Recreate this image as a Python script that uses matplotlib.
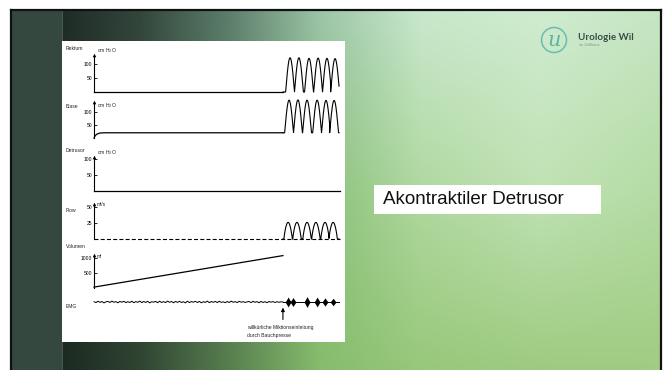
import numpy as np
import matplotlib
matplotlib.use("Agg")
import matplotlib.pyplot as plt
from matplotlib.patches import Rectangle, Circle

plt.rcParams['font.family'] = ['Liberation Sans', 'DejaVu Sans']

W, H = 667, 370

# ---- time base (arbitrary units) -------------------------------------------
t_end = 100.0
void_start = 76.8          # voluntary voiding by abdominal straining

# ---- Rektum (cm H2O) --------------------------------------------------------
rektum_base = 0
rektum_peaks_t = [79.7, 83.3, 87.4, 91.1, 94.7, 98.0]
rektum_peaks_v = [122, 122, 120, 121, 120, 119]

# ---- Blase (cm H2O) ---------------------------------------------------------
blase_knots_t = [0.0, 0.5, 1.2, 2.4, 4.0, 76.8]
blase_knots_v = [0, 9, 15, 19, 20, 20]
blase_peaks_t = [79.3, 82.9, 86.6, 90.7, 94.3, 97.6]
blase_peaks_v = [145, 146, 145, 145, 144, 144]

# ---- Detrusor (cm H2O) ------------------------------------------------------
detrusor_t = [0.0, 100.0]
detrusor_v = [0, 0]

# ---- Flow (ml/s) ------------------------------------------------------------
flow_peaks_t = [78.9, 82.5, 86.6, 90.2, 93.9, 97.2]
flow_peaks_v = [26, 26, 26, 26, 26, 26]

# ---- Volumen (ml) -----------------------------------------------------------
volumen_t = [0.0, 76.8]
volumen_v = [30, 1080]

# ---- EMG (relative amplitude) -----------------------------------------------
emg_rest = [0.3, -0.6, 0.8, -0.4, 0.5, -0.9, 0.2, 0.6, -0.5, 0.9, -0.3, 0.4,
            -0.8, 0.6, -0.2, 0.7, -0.6, 0.3, -0.5, 0.8, -0.7, 0.4, -0.3, 0.9,
            -0.6, 0.5, -0.4, 0.7, -0.9, 0.3, -0.2, 0.6, -0.7, 0.8, -0.5, 0.4,
            -0.6, 0.9, -0.3, 0.5, -0.8, 0.6, -0.4, 0.7, -0.5, 0.3, -0.9, 0.8,
            -0.6, 0.4, -0.2, 0.7, -0.5, 0.6, -0.8, 0.3, -0.4, 0.9, -0.7, 0.5,
            -0.3, 0.6, -0.6, 0.8, -0.4, 0.2, -0.7, 0.5, -0.5, 0.9, -0.3, 0.4,
            -0.6, 0.7, -0.2, 0.3, -0.4, 0.1, 0.5, -0.6, 0.7, -0.3, 0.4, -0.8,
            0.6, -0.5, 0.3, -0.7, 0.5, -0.2, 0.4, -0.5, 0.3, -0.3, 0.2, 0.0]
emg_burst_t = [78.9, 80.9, 86.6, 90.7, 93.9, 97.2]
emg_burst_v = [5.0, 4.5, 5.5, 5.0, 4.2, 3.8]

channel_names = ["Rektum", "Blase", "Detrusor", "Flow", "Volumen", "EMG"]
units = ["cm H$_2$O", "cm H$_2$O", "cm H$_2$O", "ml/s", "ml", ""]
yticks = [[50, 100], [50, 100], [50, 100], [25, 50], [500, 1000], []]


def pulse_train(t, centers, heights, width, base=0.0, power=1.0):
    y = np.full_like(t, base, dtype=float)
    for c, h in zip(centers, heights):
        u = (t - (c - width / 2)) / width
        m = (u >= 0) & (u <= 1)
        y[m] = base + (h - base) * np.sin(np.pi * u[m]) ** power
    return y


fig = plt.figure(figsize=(W / 100, H / 100), dpi=100)
fig.patch.set_facecolor("white")

# ---- slide background ------------------------------------------------------
bg = fig.add_axes([0, 0, 1, 1])
bg.set_xlim(0, W)
bg.set_ylim(H, 0)
bg.axis("off")

xs = [62, 140, 230, 320, 420, 540, 661]
ys = [10, 190, 370]
rows_hex = [
    ["#1f2c26", "#33463c", "#5d7e6c", "#9cc4a8", "#c8e8cc", "#cfecd0", "#c6e6c4"],
    ["#1f2d27", "#33483c", "#5b8262", "#8cc27c", "#b0d8a0", "#c0e2b4", "#b4dca4"],
    ["#1c2921", "#2f4432", "#587f4e", "#86bc6c", "#98c87a", "#9ecb80", "#a0cc82"],
]
cols = np.array([[matplotlib.colors.to_rgb(c) for c in r] for r in rows_hex])
gx = np.arange(62, 661) + 0.5
gy = np.arange(10, 370) + 0.5
rows = np.stack([np.stack([np.interp(gx, xs, cols[r, :, c]) for c in range(3)], -1)
                 for r in range(3)])
fy = np.interp(gy, ys, [0, 1, 2])
i0 = np.clip(np.floor(fy).astype(int), 0, 1)
f = (fy - i0)[:, None, None]
img = rows[i0] * (1 - f) + rows[i0 + 1] * f
bg.imshow(img, extent=(62, 661, 370, 10), origin="upper", aspect="auto",
          interpolation="bilinear", zorder=0)

bg.add_patch(Rectangle((11, 10), 51, 360, fc="#34483f", ec="none", zorder=1))
bg.plot([62, 62], [10, 370], color="#5a6e64", lw=0.5, zorder=2)
bg.plot([11, 11], [10, 370], color="#111111", lw=1.6, zorder=3)
bg.plot([11, 661], [10, 10], color="#111111", lw=1.6, zorder=3)
bg.plot([661, 661], [10, 370], color="#111111", lw=1.6, zorder=3)

# white chart card
bg.add_patch(Rectangle((62, 41), 283, 301, fc="white", ec="none", zorder=2))

# title box
bg.add_patch(Rectangle((374, 185), 227, 29, fc="white", ec="none", zorder=2))
bg.text(383, 200, "Akontraktiler Detrusor", fontsize=13.5, color="#111111",
        va="center", ha="left", zorder=3)

# logo
bg.add_patch(Circle((554, 40), 12.5, fc="none", ec="#6cbcae", lw=1.1, zorder=3))
bg.text(554, 41, "u", fontsize=15, family="DejaVu Serif", style="italic",
        color="#5cb4a4", ha="center", va="center", zorder=3)
bg.text(578, 37, "Urologie Wil", fontsize=7, weight="bold", family="Lato",
        color="#3b4a47", va="center", ha="left", zorder=3)
bg.text(579, 45, "im Zollhaus", fontsize=3, color="#8a9a92",
        va="center", ha="left", zorder=3)

# ---- trace panels ----------------------------------------------------------
X0, X1 = 94, 340
# (top pixel of axis arrow, pixel of zero line, top value)
panels = [(55, 92, 132), (102, 138, 138), (157, 191, 106),
          (204, 239, 54.7), (255, 288, 1100)]
label_y = [49, 107, 150, 211, 247, 306]
unit_y = [51, 106, 153, 204, 256]

axes = []
for (top, zero, vmax), ticks in zip(panels, yticks):
    ax = fig.add_axes([X0 / W, 1 - zero / H, (X1 - X0) / W, (zero - top) / H])
    ax.set_xlim(0, t_end)
    ax.set_ylim(0, vmax)
    ax.patch.set_alpha(0)
    for s in ("top", "right", "bottom"):
        ax.spines[s].set_visible(False)
    ax.spines["left"].set_linewidth(0.8)
    ax.set_xticks([])
    ax.set_yticks(ticks)
    ax.tick_params(axis="y", direction="in", length=2.2, width=0.6,
                   labelsize=3.6, pad=1.5)
    ax.plot([0], [vmax], marker="^", color="k", ms=2.6, clip_on=False,
            markeredgewidth=0)
    axes.append(ax)

tt = np.linspace(void_start, 99.6, 800)

ax = axes[0]
ax.plot([0, void_start], [rektum_base, rektum_base], color="k", lw=0.9,
        clip_on=False)
ax.plot(tt, pulse_train(tt, rektum_peaks_t, rektum_peaks_v, 3.6, rektum_base),
        color="k", lw=0.8, clip_on=False)

ax = axes[1]
ax.plot(blase_knots_t, blase_knots_v, color="k", lw=0.9, clip_on=False)
ax.plot(tt, pulse_train(tt, blase_peaks_t, blase_peaks_v, 3.6, blase_knots_v[-1]),
        color="k", lw=0.8, clip_on=False)

ax = axes[2]
ax.plot(detrusor_t, detrusor_v, color="k", lw=0.9, clip_on=False)

ax = axes[3]
ax.plot([0, t_end], [0, 0], color="k", lw=0.8, dashes=(3.6, 2.0), clip_on=False)
ax.plot(tt, pulse_train(tt, flow_peaks_t, flow_peaks_v, 3.4, 0.0, 0.8),
        color="k", lw=0.8, clip_on=False)

ax = axes[4]
ax.plot(volumen_t, volumen_v, color="k", lw=0.9, clip_on=False)

# EMG strip
emg = fig.add_axes([X0 / W, 1 - 308 / H, (X1 - X0) / W, 12 / H])
emg.set_xlim(0, t_end)
emg.set_ylim(-6, 6)
emg.axis("off")
te = np.linspace(0, void_start, len(emg_rest))
emg.plot(te, emg_rest, color="k", lw=0.7, clip_on=False)
emg.plot([void_start, 99.6], [0, 0], color="k", lw=0.7, clip_on=False)
for c, h in zip(emg_burst_t, emg_burst_v):
    tb = np.linspace(c - 1.3, c + 1.3, 40)
    env = h * np.clip(1 - np.abs(tb - c) / 1.3, 0, 1) ** 1.2
    emg.fill_between(tb, -env, env, color="k", lw=0, clip_on=False)
emg.annotate("", xy=(void_start, -5.6), xytext=(void_start, -17.5),
             annotation_clip=False,
             arrowprops=dict(arrowstyle="-|>", lw=0.8, color="k",
                             mutation_scale=5, shrinkA=0, shrinkB=0))

# channel names and units
for name, y in zip(channel_names, label_y):
    bg.text(66, y, name, fontsize=3.6, color="#222222", va="center",
            ha="left", zorder=5)
for u, y in zip(units[:5], unit_y):
    bg.text(97, y, u, fontsize=3.6, color="#222222", va="center", ha="left",
            zorder=5)

bg.text(247, 327, "willkürliche Miktionseinleitung", fontsize=3.6,
        color="#222222", va="center", ha="left", zorder=5)
bg.text(247, 335, "durch Bauchpresse", fontsize=3.6, color="#222222",
        va="center", ha="left", zorder=5)

fig.savefig("out.png", dpi=100)
